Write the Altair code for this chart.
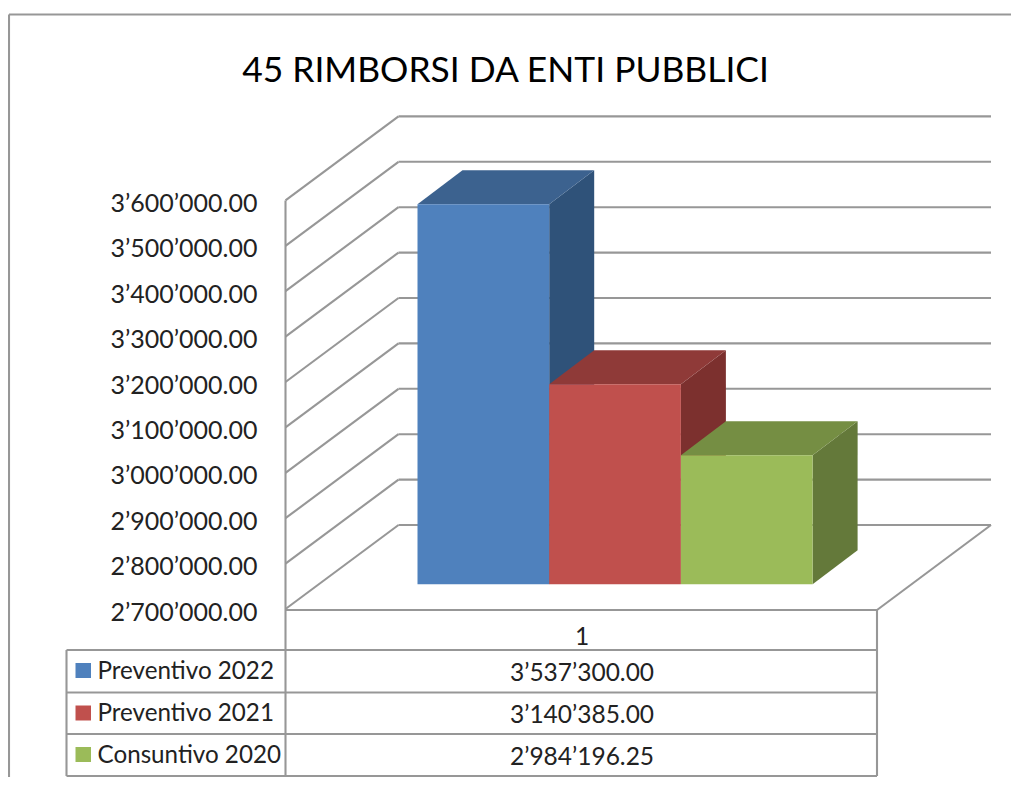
import altair as alt
import pandas as pd

TITLE = "45 RIMBORSI DA ENTI PUBBLICI"
SERIES = ["Preventivo 2022", "Preventivo 2021", "Consuntivo 2020"]
VALUES = [3537300.00, 3140385.00, 2984196.25]
FRONT = ["#4F81BD", "#C0504D", "#9BBB59"]
TOP = ["#3C628F", "#8F3A38", "#758E43"]
SIDE = ["#2F5279", "#7C302E", "#64793A"]
TICKS = [2700000 + 100000 * i for i in range(10)]
CATEGORY = "1"

FONT = "Lato"
GRID = "#979797"
W, H = 1003, 769
PX_PER_100K = 45.4


def val(p):
    """Page pixel row -> value on the front axis plane."""
    return 2700000 + (609 - p) / PX_PER_100K * 100000


def fmt(v):
    return f"{v:,.2f}".replace(",", "\u2019")


x_s = alt.Scale(domain=[8, 8 + W], range=[0, W], nice=False, zero=False)
y_s = alt.Scale(domain=[val(8 + H), val(8)], range=[H, 0], nice=False, zero=False)
AXIS = alt.Axis(
    values=TICKS,
    domain=False,
    ticks=False,
    grid=False,
    title=None,
    offset=-249,
    labelPadding=0,
    labelFont=FONT,
    labelFontSize=25,
    labelColor="#222222",
    labelOffset=3,
    labelOverlap=False,
    labelExpr="join(split(format(datum.value, ',.2f'), ','), '\u2019')",
)
X = lambda f="x": alt.X(f + ":Q", scale=x_s, axis=None)
Y = lambda f="y": alt.Y(f + ":Q", scale=y_s, axis=AXIS)

DEPTH_X, DEPTH_Y = 113, 84
WALL_X0 = 285.5
WALL_X1 = WALL_X0 + DEPTH_X
WALL_X2 = 991
FLOOR_RIGHT = 877
TABLE_L, TABLE_R = 66.5, 877
ROWS = [650, 692.5, 734, 776]

lines = []
for t in TICKS:
    py = 609 - (t - 2700000) / 100000 * PX_PER_100K
    lines.append(dict(x=WALL_X0, x2=WALL_X1, y=val(py), y2=val(py - DEPTH_Y)))
    lines.append(dict(x=WALL_X1, x2=WALL_X2, y=val(py - DEPTH_Y), y2=val(py - DEPTH_Y)))
lines += [
    dict(x=WALL_X0, x2=WALL_X0, y=val(200.5), y2=val(776)),
    dict(x=WALL_X0, x2=FLOOR_RIGHT, y=val(610), y2=val(610)),
    dict(x=FLOOR_RIGHT, x2=WALL_X2, y=val(610), y2=val(525)),
    dict(x=FLOOR_RIGHT, x2=FLOOR_RIGHT, y=val(610), y2=val(776)),
    dict(x=TABLE_L, x2=TABLE_L, y=val(650), y2=val(776)),
    dict(x=9, x2=1011, y=val(14.5), y2=val(14.5)),
    dict(x=9, x2=9, y=val(14.5), y2=val(777)),
]
for r in ROWS:
    lines.append(dict(x=TABLE_L, x2=FLOOR_RIGHT, y=val(r), y2=val(r)))

base = (
    alt.Chart(pd.DataFrame(lines))
    .mark_rule(color=GRID, strokeWidth=2.1)
    .encode(x=X(), x2="x2:Q", y=Y(), y2="y2:Q")
)

layers = [base]

BAR_LEFT, BAR_W = 417.5, 131.7
BAR_BASE = 584.3
BAR_DX, BAR_DY = 45, 34
shift = val(BAR_BASE) - 2700000
dv = BAR_DY / PX_PER_100K * 100000
for i, (v, f, t, s) in enumerate(zip(VALUES, FRONT, TOP, SIDE)):
    l = BAR_LEFT + i * BAR_W
    r = l + BAR_W
    lo, hi = 2700000 + shift, v + shift
    side = pd.DataFrame(
        [dict(x=r, y=hi, y2=lo), dict(x=r + BAR_DX, y=hi + dv, y2=lo + dv)]
    )
    top = pd.DataFrame(
        [dict(y=hi, x=l, x2=r), dict(y=hi + dv, x=l + BAR_DX, x2=r + BAR_DX)]
    )
    front = pd.DataFrame([dict(x=l, x2=r, y=hi, y2=lo)])
    layers.append(
        alt.Chart(side).mark_area(color=s).encode(x=X(), y=Y(), y2="y2:Q")
    )
    layers.append(
        alt.Chart(top).mark_area(color=t, orient="horizontal").encode(y=Y(), x=X(), x2="x2:Q")
    )
    layers.append(
        alt.Chart(front).mark_rect(color=f).encode(x=X(), x2="x2:Q", y=Y(), y2="y2:Q")
    )

# legend keys in the data table
KEY_ROWS = [670.5, 713, 754.5]
keys = pd.DataFrame(
    [
        dict(x=75.5, x2=91, y=val(c - 7.5), y2=val(c + 7.5), c=col)
        for c, col in zip(KEY_ROWS, FRONT)
    ]
)
layers.append(
    alt.Chart(keys)
    .mark_rect()
    .encode(x=X(), x2="x2:Q", y=Y(), y2="y2:Q", color=alt.Color("c:N", scale=None))
)

texts = pd.DataFrame(
    [dict(x=97.5, y=val(c + 1), t=s) for c, s in zip(KEY_ROWS, SERIES)]
)
layers.append(
    alt.Chart(texts)
    .mark_text(align="left", baseline="middle", font=FONT, fontSize=24.2, color="#222222")
    .encode(x=X(), y=Y(), text="t:N")
)

cells = pd.DataFrame(
    [dict(x=582, y=val(c + 3), t=fmt(v)) for c, v in zip(KEY_ROWS, VALUES)]
    + [dict(x=582, y=val(638), t=CATEGORY)]
)
layers.append(
    alt.Chart(cells)
    .mark_text(align="center", baseline="middle", font=FONT, fontSize=24.5, color="#222222")
    .encode(x=X(), y=Y(), text="t:N")
)

title = pd.DataFrame([dict(x=505.5, y=val(71), t=TITLE)])
layers.append(
    alt.Chart(title)
    .mark_text(align="center", baseline="middle", font=FONT, fontSize=35.4, color="#000000")
    .encode(x=X(), y=Y(), text="t:N")
)

chart = (
    alt.layer(*layers)
    .properties(width=W, height=H, padding=0, autosize=alt.AutoSizeParams(type="none"), background="white")
    .configure_view(stroke=None)
)
chart.save("out.html", embed_options={"renderer": "svg", "actions": False})
